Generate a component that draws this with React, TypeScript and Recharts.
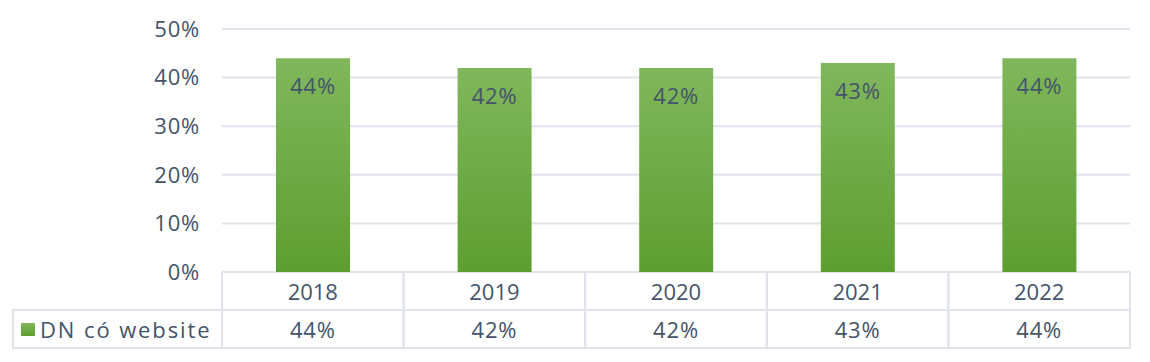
import React from 'react';
import { BarChart, Bar, XAxis, YAxis, CartesianGrid, LabelList } from 'recharts';

const years = ['2018', '2019', '2020', '2021', '2022'];
const websiteShare = [44, 42, 42, 43, 44];
const yTicks = [0, 10, 20, 30, 40, 50];
const seriesName = 'DN có website';

const data = years.map((year, i) => ({ year, value: websiteShare[i] }));

const TEXT = '#44546A';
const GRID = '#E0E4EA';
const FONT = '"Open Sans", sans-serif';
const FS = 22;

const CHART_W = 1150;
const CHART_H = 362;
const PLOT_LEFT = 222;
const PLOT_RIGHT = 20;
const ROW_H = 38;
const TABLE_LEFT = 13;

const colHalf = (CHART_W - PLOT_LEFT - PLOT_RIGHT) / years.length / 2;

// data table under the plot, drawn one column per tick
function TableTick(props: any) {
  const { x, y, payload, index } = props;
  const value = websiteShare[index];
  const left = x - colHalf;
  const right = x + colHalf;
  return (
    <g>
      <line x1={left} y1={y} x2={left} y2={y + ROW_H * 2 + 1} stroke={GRID} strokeWidth={2} />
      <line x1={right} y1={y} x2={right} y2={y + ROW_H * 2 + 1} stroke={GRID} strokeWidth={2} />
      <line x1={left} y1={y + ROW_H} x2={right} y2={y + ROW_H} stroke={GRID} strokeWidth={2} />
      <line x1={left} y1={y + ROW_H * 2} x2={right} y2={y + ROW_H * 2} stroke={GRID} strokeWidth={2} />
      <text x={x} y={y + 28} textAnchor="middle" fill={TEXT} fontSize={FS} fontFamily={FONT}>
        {payload.value}
      </text>
      <text x={x} y={y + ROW_H + 28} textAnchor="middle" fill={TEXT} fontSize={FS} fontFamily={FONT} letterSpacing={0.8}>
        {value}%
      </text>
      {index === 0 && (
        <g>
          <line x1={TABLE_LEFT} y1={y + ROW_H} x2={left} y2={y + ROW_H} stroke={GRID} strokeWidth={2} />
          <line x1={TABLE_LEFT} y1={y + ROW_H * 2} x2={left} y2={y + ROW_H * 2} stroke={GRID} strokeWidth={2} />
          <line x1={TABLE_LEFT} y1={y + ROW_H - 1} x2={TABLE_LEFT} y2={y + ROW_H * 2 + 1} stroke={GRID} strokeWidth={2} />
          <rect x={21} y={y + ROW_H + 13} width={14} height={13} fill="url(#barFill)" />
          <text x={40} y={y + ROW_H + 28} fill={TEXT} fontSize={FS} fontFamily={FONT} letterSpacing={1.9}>
            {seriesName}
          </text>
        </g>
      )}
    </g>
  );
}

export default function App() {
  return (
    <div style={{ position: 'absolute', left: 0, top: 0, width: CHART_W, height: CHART_H, background: '#fff' }}>
      <BarChart
        width={CHART_W}
        height={CHART_H}
        data={data}
        margin={{ top: 29, right: PLOT_RIGHT, bottom: 13, left: 0 }}
      >
        <defs>
          <linearGradient id="barFill" x1="0" y1="0" x2="0" y2="1">
            <stop offset="0%" stopColor="#80B75C" />
            <stop offset="100%" stopColor="#5E9E30" />
          </linearGradient>
        </defs>
        <CartesianGrid vertical={false} stroke={GRID} strokeWidth={2} />
        <YAxis
          width={PLOT_LEFT}
          domain={[0, 50]}
          ticks={yTicks}
          tickFormatter={(v: number) => `${v}%`}
          axisLine={false}
          tickLine={false}
          tickSize={0}
          tickMargin={22}
          tick={{ fill: TEXT, fontSize: FS, fontFamily: FONT, letterSpacing: 0.8 }}
        />
        <XAxis
          dataKey="year"
          height={77}
          axisLine={false}
          tickLine={false}
          tickSize={0}
          tickMargin={0}
          interval={0}
          tick={<TableTick />}
        />
        <Bar dataKey="value" fill="url(#barFill)" barSize={74} isAnimationActive={false}>
          <LabelList
            dataKey="value"
            position="insideTop"
            offset={20}
            formatter={(v: any) => `${v}%`}
            fill={TEXT}
            fontSize={FS}
            fontFamily={FONT}
            letterSpacing={0.8}
          />
        </Bar>
      </BarChart>
    </div>
  );
}
